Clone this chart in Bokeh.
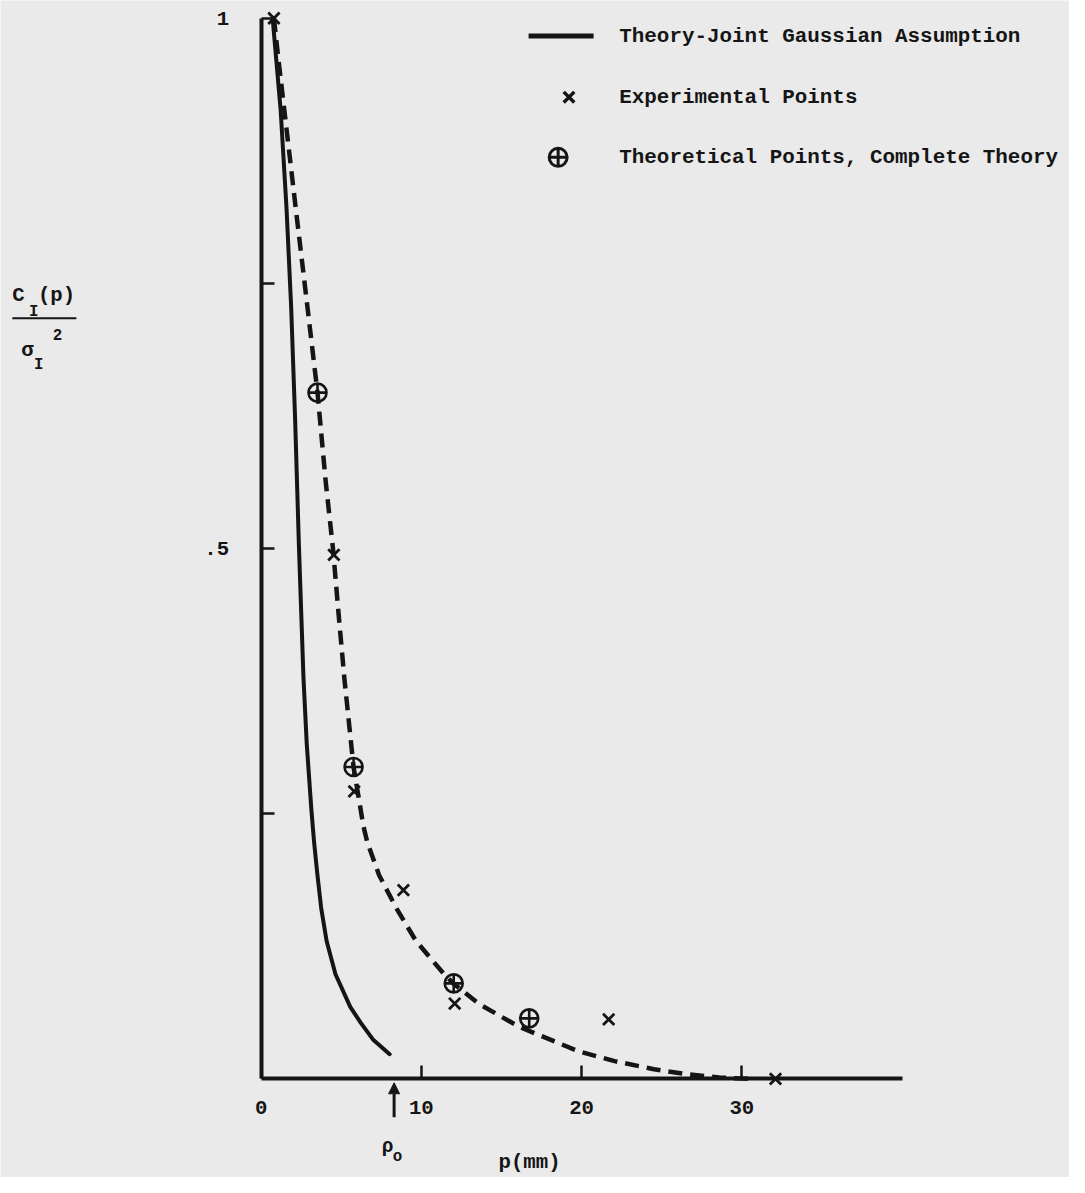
from bokeh.plotting import figure
from bokeh.models import Range1d, FixedTicker, Arrow, NormalHead
from bokeh.core.properties import value
from bokeh.embed import file_html
from bokeh.resources import INLINE

# ---------------- data ----------------
gauss_p = [0.72, 1.217, 1.586, 1.875, 2.121, 2.361, 2.644, 2.847, 3.136, 3.308, 3.517, 3.750, 4.088, 4.642,
           5.564, 6.21, 6.978, 8.023]
gauss_v = [1.0, 0.914, 0.821, 0.728, 0.623, 0.502, 0.378, 0.316, 0.254, 0.223, 0.192, 0.161, 0.130, 0.0986,
           0.0679, 0.053, 0.0372, 0.0233]

complete_p = [0.8, 1.06, 2.16, 2.89, 3.52, 4.027, 4.488, 4.826, 5.195, 5.77, 6.382, 6.628, 7.366, 8.435,
              9.665, 11.405, 12.02, 13.56, 14.99, 16.12, 17.55, 19.81, 22.06, 24.52, 26.57, 28.6, 30.5]
complete_v = [1.0, 0.964, 0.821, 0.728, 0.647, 0.5637, 0.4995, 0.44, 0.3777, 0.294, 0.2384, 0.223, 0.192,
              0.161, 0.130, 0.0989, 0.0896, 0.071, 0.0586, 0.049, 0.040, 0.026, 0.0167, 0.009, 0.0044,
              0.0012, 0.0]

exp_p = [0.8, 4.54, 5.81, 8.88, 12.08, 21.69, 32.1]
exp_v = [1.0, 0.494, 0.271, 0.178, 0.071, 0.056, 0.0]

theo_p = [3.52, 5.77, 12.02, 16.73]
theo_v = [0.647, 0.294, 0.090, 0.057]

x_ticks = [0, 10, 20, 30]
x_tick_labels = ["0", "10", "20", "30"]
y_ticks = [0.25, 0.5, 0.75, 1.0]
y_tick_labels = ["", ".5", "", "1"]
rho0 = 8.3

legend_labels = ["Theory-Joint Gaussian Assumption", "Experimental Points",
                 "Theoretical Points, Complete Theory"]

# ---------------- layout helpers (reference pixel -> data) ----------------
REF_W, REF_H = 1085, 1193
W, H = 1069, 1177
S = W / REF_W
def px(X):
    return (X - 264.5) / 16.265
def py(Y):
    return (1093.0 - Y) / 1075.0
def fs(v):
    return "%.1fpx" % (v * S)

BG = "#eaeaea"
INK = "#151515"
FONT = value("Liberation Mono")

p = figure(width=W, height=H, x_range=Range1d(px(0), px(REF_W)), y_range=Range1d(py(REF_H), py(0)),
           min_border=0, output_backend="svg", toolbar_location=None,
           background_fill_color=BG, border_fill_color=BG, outline_line_color=None)
p.grid.visible = False

for ax in (p.xaxis[0], p.yaxis[0]):
    ax.fixed_location = 0
    ax.axis_line_width = 4
    ax.axis_line_color = INK
    ax.major_tick_in = 13
    ax.major_tick_out = 0
    ax.major_tick_line_width = 2.5
    ax.major_tick_line_color = INK
    ax.minor_tick_line_color = None
    ax.major_label_text_font = "Liberation Mono"
    ax.major_label_text_font_style = "bold"
    ax.major_label_text_font_size = fs(21)
    ax.major_label_text_color = INK

p.xaxis.bounds = (0, 40)
p.yaxis.bounds = (0, 1)
p.xaxis.ticker = FixedTicker(ticks=x_ticks)
p.yaxis.ticker = FixedTicker(ticks=y_ticks)
p.xaxis.major_label_overrides = dict(zip(x_ticks, x_tick_labels))
p.yaxis.major_label_overrides = dict(zip(y_ticks, y_tick_labels))
p.xaxis.major_label_standoff = 22
p.yaxis.major_label_standoff = 32

# ---------------- curves & points ----------------
p.line(gauss_p, gauss_v, line_width=4, line_color=INK, line_join="round", line_cap="round")
p.line(complete_p, complete_v, line_width=4.5, line_color=INK, line_dash="14 8", line_join="round")
p.scatter(exp_p, exp_v, marker="x", size=16, line_width=2.8, line_color=INK)
p.scatter(theo_p, theo_v, marker="circle_cross", size=18, line_width=2.6, line_color=INK,
          fill_color=None)

# ---------------- legend (drawn manually) ----------------
p.line([px(536), px(602)], [py(36), py(36)], line_width=5, line_color=INK)
p.scatter([px(577)], [py(98)], marker="x", size=15, line_width=3.5, line_color=INK)
p.scatter([px(566)], [py(159)], marker="circle_cross", size=18, line_width=3, line_color=INK,
          fill_color=None)
p.text(x=[px(628)] * 3, y=[py(36), py(98), py(159)], text=legend_labels,
       text_font=FONT, text_font_style="bold", text_font_size=fs(21.2), text_color=INK,
       text_baseline="middle", text_align="left")

# ---------------- axis titles ----------------
def txt(X, Y, s, size, align="left", baseline="alphabetic"):
    p.text(x=[px(X)], y=[py(Y)], text=[s], text_font=FONT, text_font_style="bold",
           text_font_size=fs(size), text_color=INK, text_baseline=baseline, text_align=align)

txt(12, 299, "C", 21)
txt(29, 316, "I", 16)
txt(38, 299, "(p)", 21)
p.line([px(12), px(77)], [py(322), py(322)], line_width=2, line_color=INK)
txt(21, 355, "σ", 21)
txt(34, 369, "I", 16)
txt(53, 339, "2", 16)

txt(537, 1178, "p(mm)", 21, align="center", baseline="middle")

# rho_o marker
p.add_layout(Arrow(end=NormalHead(size=11, fill_color=INK, line_color=INK, line_width=1),
                   x_start=rho0, y_start=py(1132), x_end=rho0, y_end=py(1097),
                   line_width=3, line_color=INK))
txt(393, 1162, "ρ", 20, align="center")
txt(403, 1172, "o", 16, align="center")

open("out.html", "w").write(file_html(p, INLINE))
